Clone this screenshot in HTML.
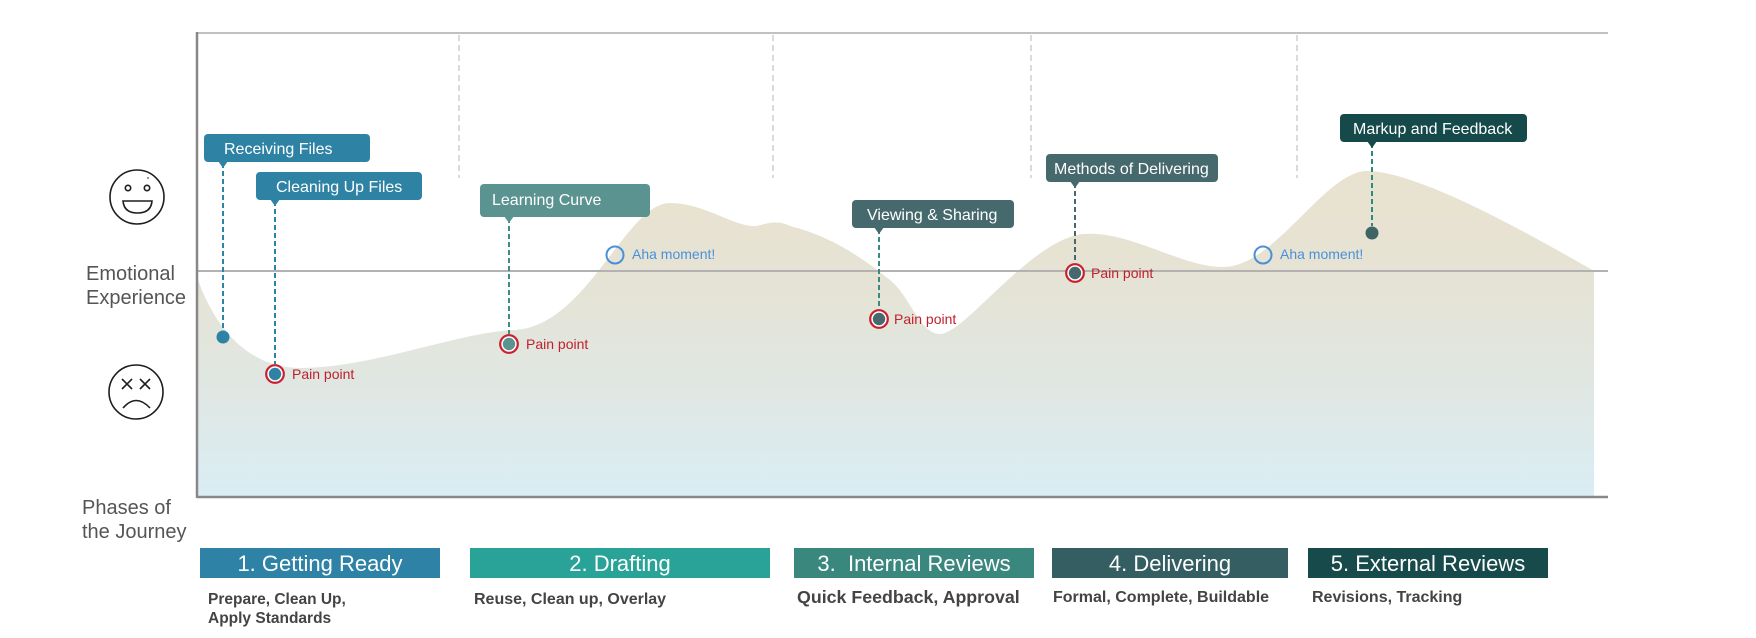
<!DOCTYPE html>
<html><head><meta charset="utf-8"><style>
html,body{margin:0;padding:0;background:#fff;}
svg{display:block;}
text{font-family:"Liberation Sans",Arial,sans-serif;}
</style></head><body>
<svg width="1756" height="638" viewBox="0 0 1756 638" xmlns="http://www.w3.org/2000/svg">
<defs>
<linearGradient id="g" x1="0" y1="171" x2="0" y2="496" gradientUnits="userSpaceOnUse">
<stop offset="0" stop-color="#e9e2cf"/>
<stop offset="0.35" stop-color="#e5e3d5"/>
<stop offset="0.65" stop-color="#e0e7e2"/>
<stop offset="1" stop-color="#daedf4"/>
</linearGradient>
</defs>
<rect width="1756" height="638" fill="#fff"/>

<!-- area fill -->
<path d="M197,277 C215,330 250,368 300,368 C370,368 450,335 510,330 C585,332 625,203 670,203 C705,203 735,228 757,226 C768,223 778,220 790,226 C830,236 860,256 890,280 C910,296 920,334 940,334 C965,334 1030,240 1083,234 C1130,230 1180,267 1223,267 C1275,267 1325,171 1367,171 C1420,171 1540,240 1594,271 L1594,496 L197,496 Z" fill="url(#g)"/>

<!-- frame -->
<line x1="197" y1="33" x2="1608" y2="33" stroke="#c2c0c1" stroke-width="2"/>
<line x1="197" y1="271" x2="1608" y2="271" stroke="#b3b1b1" stroke-width="2"/>
<line x1="197" y1="497" x2="1608" y2="497" stroke="#8a8789" stroke-width="2.5"/>
<line x1="197" y1="32" x2="197" y2="498" stroke="#8a8789" stroke-width="2.5"/>

<!-- phase dividers -->
<g stroke="#cfcfcf" stroke-width="1.5" stroke-dasharray="6,4">
<line x1="459" y1="35" x2="459" y2="178"/>
<line x1="773" y1="35" x2="773" y2="178"/>
<line x1="1031" y1="35" x2="1031" y2="178"/>
<line x1="1297" y1="35" x2="1297" y2="178"/>
</g>

<!-- faces -->
<g fill="none" stroke="#1e1e1e" stroke-width="1.6">
<circle cx="137" cy="197" r="27"/>
<circle cx="128" cy="188" r="2.7"/>
<circle cx="147" cy="188" r="2.7"/>
<path d="M123,201 L152,201 Q151,213 137.5,213 Q124,213 123,201 Z"/>
<circle cx="136" cy="392" r="27"/>
<path d="M122,379 L132,389 M132,379 L122,389 M140,379 L150,389 M150,379 L140,389"/>
<path d="M123,408 Q136,393 150,408"/>
</g>
<circle cx="148" cy="178" r="0.8" fill="#1e1e1e"/>

<!-- left labels -->
<g fill="#555" font-size="20">
<text x="86" y="280">Emotional</text>
<text x="86" y="304">Experience</text>
<text x="82" y="514">Phases of</text>
<text x="82" y="538">the Journey</text>
</g>

<!-- dashed connectors -->
<g stroke-width="2" stroke-dasharray="5,3" fill="none">
<line x1="223" y1="163" x2="223" y2="331" stroke="#2e83a4"/>
<line x1="275" y1="201" x2="275" y2="364" stroke="#2e83a4"/>
<line x1="509" y1="218" x2="509" y2="334" stroke="#3c8c86"/>
<line x1="879" y1="229" x2="879" y2="309" stroke="#3a8a80"/>
<line x1="1075" y1="183" x2="1075" y2="263" stroke="#46696d"/>
<line x1="1372" y1="143" x2="1372" y2="226" stroke="#2a8a80"/>
</g>

<!-- label boxes -->
<g font-size="16" fill="#fff">
<rect x="204" y="134" width="166" height="28" rx="4" fill="#2e83a4"/>
<path d="M218,161 L228,161 L223,168 Z" fill="#2e83a4"/>
<text x="224" y="154">Receiving Files</text>

<rect x="256" y="172" width="166" height="28" rx="4" fill="#2e83a4"/>
<path d="M270,199 L280,199 L275,206 Z" fill="#2e83a4"/>
<text x="276" y="192">Cleaning Up Files</text>

<rect x="480" y="184" width="170" height="33" rx="4" fill="#5b9390"/>
<path d="M504,216 L514,216 L509,223 Z" fill="#5b9390"/>
<text x="492" y="205">Learning Curve</text>

<rect x="852" y="200" width="162" height="28" rx="4" fill="#46696d"/>
<path d="M874,227 L884,227 L879,234 Z" fill="#46696d"/>
<text x="867" y="220">Viewing &amp; Sharing</text>

<rect x="1046" y="154" width="172" height="28" rx="4" fill="#46696d"/>
<path d="M1070,181 L1080,181 L1075,188 Z" fill="#46696d"/>
<text x="1054" y="174">Methods of Delivering</text>

<rect x="1340" y="114" width="187" height="28" rx="4" fill="#16494a"/>
<path d="M1367,141 L1377,141 L1372,148 Z" fill="#16494a"/>
<text x="1353" y="134">Markup and Feedback</text>
</g>

<!-- plain dots -->
<circle cx="223" cy="337" r="6.5" fill="#2e83a4"/>
<circle cx="1372" cy="233" r="6.5" fill="#3f6466"/>

<!-- pain points -->
<g stroke="#c8202e" stroke-width="2.2" fill="#fff">
<circle cx="275" cy="374" r="8.8"/>
<circle cx="509" cy="344" r="8.8"/>
<circle cx="879" cy="319" r="8.8"/>
<circle cx="1075" cy="273" r="8.8"/>
</g>
<circle cx="275" cy="374" r="6.2" fill="#2e83a4"/>
<circle cx="509" cy="344" r="6.2" fill="#5b9390"/>
<circle cx="879" cy="319" r="6.2" fill="#46696d"/>
<circle cx="1075" cy="273" r="6.2" fill="#46696d"/>
<g fill="#c0202e" font-size="14">
<text x="292" y="379">Pain point</text>
<text x="526" y="349">Pain point</text>
<text x="894" y="324">Pain point</text>
<text x="1091" y="278">Pain point</text>
</g>

<!-- aha moments -->
<g fill="none" stroke="#4a90d9" stroke-width="2">
<circle cx="615" cy="255" r="8.5"/>
<circle cx="1263" cy="255" r="8.5"/>
</g>
<g fill="#4a90d9" font-size="14">
<text x="632" y="259">Aha moment!</text>
<text x="1280" y="259">Aha moment!</text>
</g>

<!-- phase boxes -->
<rect x="200" y="548" width="240" height="30" fill="#2d82a5"/>
<rect x="470" y="548" width="300" height="30" fill="#29a398"/>
<rect x="794" y="548" width="240" height="30" fill="#3a877e"/>
<rect x="1052" y="548" width="236" height="30" fill="#345e62"/>
<rect x="1308" y="548" width="240" height="30" fill="#174a4a"/>
<g fill="#fff" font-size="22" text-anchor="middle">
<text x="320" y="571">1. Getting Ready</text>
<text x="620" y="571">2. Drafting</text>
<text x="914" y="571" xml:space="preserve">3.  Internal Reviews</text>
<text x="1170" y="571">4. Delivering</text>
<text x="1428" y="571">5. External Reviews</text>
</g>

<!-- phase subtexts -->
<g fill="#444" font-weight="bold">
<text x="208" y="604" font-size="15.5">Prepare, Clean Up,</text>
<text x="208" y="623" font-size="15.5">Apply Standards</text>
<text x="474" y="604" font-size="16">Reuse, Clean up, Overlay</text>
<text x="797" y="603" font-size="17.8">Quick Feedback, Approval</text>
<text x="1053" y="602" font-size="16">Formal, Complete, Buildable</text>
<text x="1312" y="602" font-size="16">Revisions, Tracking</text>
</g>
</svg>
</body></html>
